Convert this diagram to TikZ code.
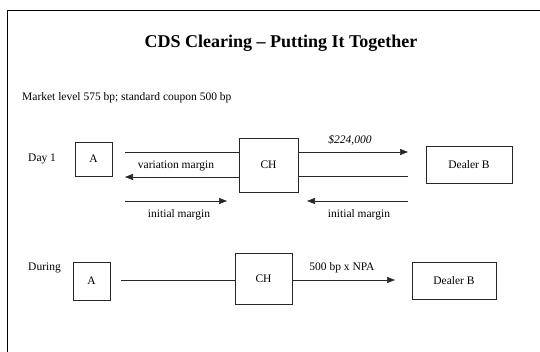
\documentclass[tikz,border=0pt]{standalone}
\usepackage{fontspec}
\setmainfont{Liberation Serif}
\usetikzlibrary{arrows.meta}
\begin{document}
\begin{tikzpicture}[x=1pt,y=-1pt,
  box/.style={draw=black!85,line width=0.6pt,inner sep=0pt,font=\fontsize{11.5}{13}\selectfont},
  flow/.style={draw=black!85,line width=0.6pt},
  arr/.style={flow,-{Triangle[length=8pt,width=6pt]}},
  lbl/.style={font=\fontsize{11.5}{13}\selectfont,inner sep=0pt}]
\useasboundingbox (0,0) rectangle (540,352);
% page frame (only top and left edges fall inside the picture)
\draw[line width=1pt] (7,352) -- (7,11) -- (540,11);
% heading
\node[font=\bfseries\fontsize{18}{21}\selectfont,inner sep=0pt] (title) at (281,43) {CDS Clearing -- Putting It Together};
\node[lbl,anchor=west] (market) at (22,98) {Market level 575 bp; standard coupon 500 bp};

% ---- Day 1 ----
\node[lbl,anchor=west] (day1) at (28,159) {Day 1};
\node[box,minimum width=37pt,minimum height=34pt] (A1) at (93.5,159) {A};
\node[box,minimum width=59pt,minimum height=54pt] (CH1) at (268.5,165) {CH};
\node[box,minimum width=86pt,minimum height=37pt] (B1) at (469,164.5) {Dealer B};
\coordinate (l1a) at (125,152);
\coordinate (l1b) at (125,177);
\coordinate (r1a) at (408,152);
\coordinate (r1b) at (408,176);
\draw[flow] (l1a) -- (l1a -| CH1.west);
\draw[arr] (l1b -| CH1.west) -- (l1b);
\node[lbl] (vm) at (176,166) {variation margin};
\draw[arr] (CH1.east |- r1a) -- (r1a);
\node[lbl,font=\itshape\fontsize{11.5}{13}\selectfont] (pay) at (350,140) {\$224,000};
\draw[flow] (CH1.east |- r1b) -- (r1b);
% initial margin arrows
\coordinate (imA0) at (125,201);
\coordinate (imA1) at (227,201);
\coordinate (imB0) at (408,201);
\coordinate (imB1) at (307,201);
\draw[arr] (imA0) -- (imA1);
\draw[arr] (imB0) -- (imB1);
\node[lbl] (imAl) at (179,215) {initial margin};
\node[lbl] (imBl) at (359,215) {initial margin};

% ---- During ----
\node[lbl,anchor=west] (during) at (28,268) {During};
\node[box,minimum width=37pt,minimum height=38pt] (A2) at (91.5,281) {A};
\node[box,minimum width=57pt,minimum height=51pt] (CH2) at (263.5,278.5) {CH};
\node[box,minimum width=84pt,minimum height=37pt] (B2) at (454,280.5) {Dealer B};
\coordinate (l2) at (121,280);
\coordinate (r2) at (395,280);
\draw[flow] (l2) -- (l2 -| CH2.west);
\draw[arr] (CH2.east |- r2) -- (r2);
\node[lbl] (npa) at (342,268) {500 bp x NPA};
\end{tikzpicture}
\end{document}
